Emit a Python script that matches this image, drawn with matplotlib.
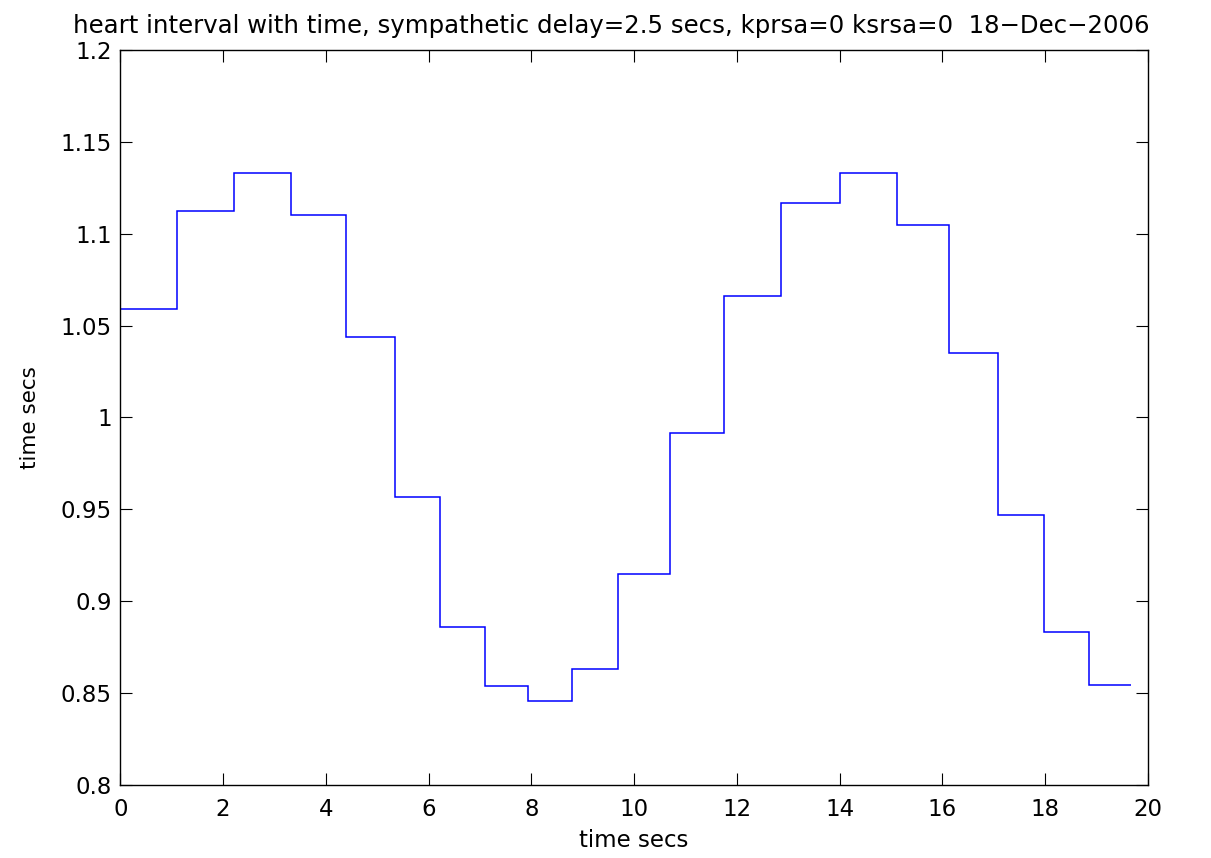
import matplotlib
matplotlib.use("Agg")
import matplotlib.pyplot as plt
from matplotlib.ticker import FixedLocator, FuncFormatter

# Beat times (edges of each heart interval step) and interval values
beat_times = [0, 1.109, 2.213, 3.322, 4.383, 5.350, 6.222, 7.097, 7.928, 8.796,
              9.676, 10.692, 11.749, 12.852, 14.006, 15.110, 16.122, 17.087,
              17.970, 18.846, 19.663]
heart_interval = [1.059, 1.1125, 1.1333, 1.1102, 1.0439, 0.9568, 0.886, 0.8538,
                  0.8455, 0.863, 0.915, 0.9917, 1.0661, 1.117, 1.1333, 1.1045,
                  1.035, 0.9469, 0.8832, 0.8544]

x_ticks = [0, 2, 4, 6, 8, 10, 12, 14, 16, 18, 20]
y_ticks = [0.8, 0.85, 0.9, 0.95, 1.0, 1.05, 1.1, 1.15, 1.2]

title_text = "heart interval with time, sympathetic delay=2.5 secs, kprsa=0 ksrsa=0  18\u2212Dec\u22122006"
x_label = "time secs"
y_label = "time secs"

plt.rcParams['font.family'] = ['DejaVu Sans']
FS = 16.5

W, H = 1211, 858
fig = plt.figure(figsize=(W / 100, H / 100), dpi=100)
ax = fig.add_axes([120.3 / W, 73 / H, 1027.7 / W, 735 / H])

ax.stairs(heart_interval, beat_times, baseline=None, color=(0, 0, 1), linewidth=1.1)

ax.set_xlim(0, 20)
ax.set_ylim(0.8, 1.2)
ax.xaxis.set_major_locator(FixedLocator(x_ticks))
ax.yaxis.set_major_locator(FixedLocator(y_ticks))
ax.yaxis.set_major_formatter(FuncFormatter(lambda v, p: "%g" % round(v, 4)))
ax.xaxis.set_major_formatter(FuncFormatter(lambda v, p: "%g" % v))

ax.tick_params(axis='both', which='major', direction='in', length=8.6, width=0.8,
               top=True, right=True, labelsize=FS, color='black')
ax.tick_params(axis='x', pad=9)
ax.tick_params(axis='y', pad=6)
for s in ax.spines.values():
    s.set_linewidth(1.0)
    s.set_color('black')

ax.set_xlabel(x_label, fontsize=FS, labelpad=6)
ax.set_ylabel(y_label, fontsize=15.5, labelpad=15)
ax.set_title(title_text, fontsize=17.6, pad=12, x=0.478)

fig.savefig("out.png", dpi=100, facecolor='white')
